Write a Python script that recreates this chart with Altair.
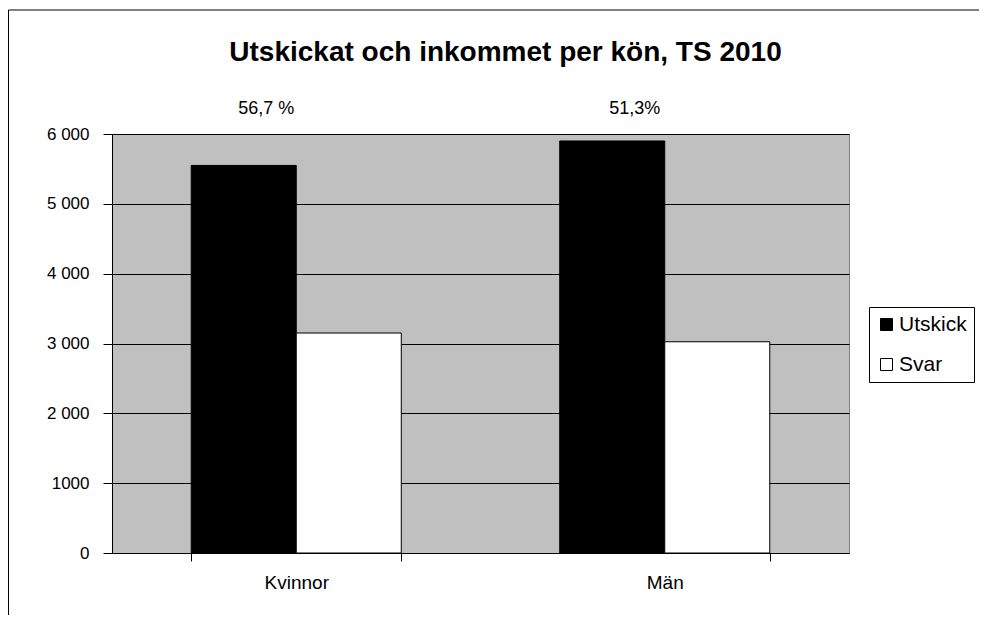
import altair as alt
import pandas as pd

categories = ["Kvinnor", "Män"]
series = ["Utskick", "Svar"]
utskick = [5550, 5900]
svar = [3150, 3025]
pct_labels = ["56,7 %", "51,3%"]
y_ticks = [0, 1000, 2000, 3000, 4000, 5000, 6000]
y_tick_labels = ["0", "1000", "2 000", "3 000", "4 000", "5 000", "6 000"]

rows = []
for i, c in enumerate(categories):
    rows.append({"Kön": c, "Serie": "Utskick", "Antal": utskick[i]})
    rows.append({"Kön": c, "Serie": "Svar", "Antal": svar[i]})
df = pd.DataFrame(rows)
pct_df = pd.DataFrame({"Kön": categories, "Andel": pct_labels})

label_map = "{" + ",".join(f"'{v}':'{l}'" for v, l in zip(y_ticks, y_tick_labels)) + "}"

W, H = 737, 419

xscale = alt.Scale(paddingInner=0.43, paddingOuter=0.215)

frame = alt.Chart(pd.DataFrame({"a": [0]})).mark_rect(
    fill=None, stroke="black", strokeWidth=1
).encode(
    x=alt.value(-103.5), x2=alt.value(W + 200),
    y=alt.value(-124), y2=alt.value(H + 200)
)

bars = alt.Chart(df).mark_bar(stroke="black", strokeWidth=1).encode(
    x=alt.X("Kön:N", sort=categories, scale=xscale,
            axis=alt.Axis(title=None, labelAngle=0, tickBand="extent",
                          labelFontSize=19, labelPadding=12, tickSize=8,
                          domainColor="black", tickColor="black", labelColor="black")),
    xOffset=alt.XOffset("Serie:N", sort=series),
    y=alt.Y("Antal:Q", scale=alt.Scale(domain=[0, 6000], nice=False),
            axis=alt.Axis(title=None, values=y_ticks, grid=True, gridColor="black",
                          gridOpacity=1, labelExpr=f"{label_map}[''+datum.value]",
                          labelFontSize=17, labelPadding=14, tickSize=9,
                          domainColor="black", tickColor="black", labelColor="black")),
    color=alt.Color("Serie:N", sort=series,
                    scale=alt.Scale(domain=series, range=["black", "white"]),
                    legend=alt.Legend(title=None, orient="none", legendX=757, legendY=173,
                                      symbolType="square", symbolSize=144,
                                      symbolStrokeColor="black", symbolStrokeWidth=1,
                                      labelFontSize=21, labelColor="black", labelOffset=2,
                                      rowPadding=18, padding=7, strokeColor="black",
                                      fillColor="white", symbolOpacity=1)),
)

texts = alt.Chart(pct_df).mark_text(fontSize=18, color="black", dx=-30, baseline="middle").encode(
    x=alt.X("Kön:N", sort=categories, scale=xscale),
    y=alt.value(-25),
    text="Andel:N",
)

chart = alt.layer(frame, bars, texts).properties(
    width=W, height=H,
    title=alt.TitleParams("Utskickat och inkommet per kön, TS 2010", fontSize=28,
                          fontWeight="bold", color="black", offset=-57, dx=25),
    autosize=alt.AutoSizeParams(type="none"),
    padding={"left": 104, "top": 126, "right": 130, "bottom": 62},
).configure(
    font="Liberation Sans",
    background="white",
).configure_view(
    fill="#C0C0C0", stroke="#808080", strokeWidth=1
).configure_axis(
    labelFont="Liberation Sans"
)

chart.save("out.html", embed_options={"renderer": "svg", "actions": False})
